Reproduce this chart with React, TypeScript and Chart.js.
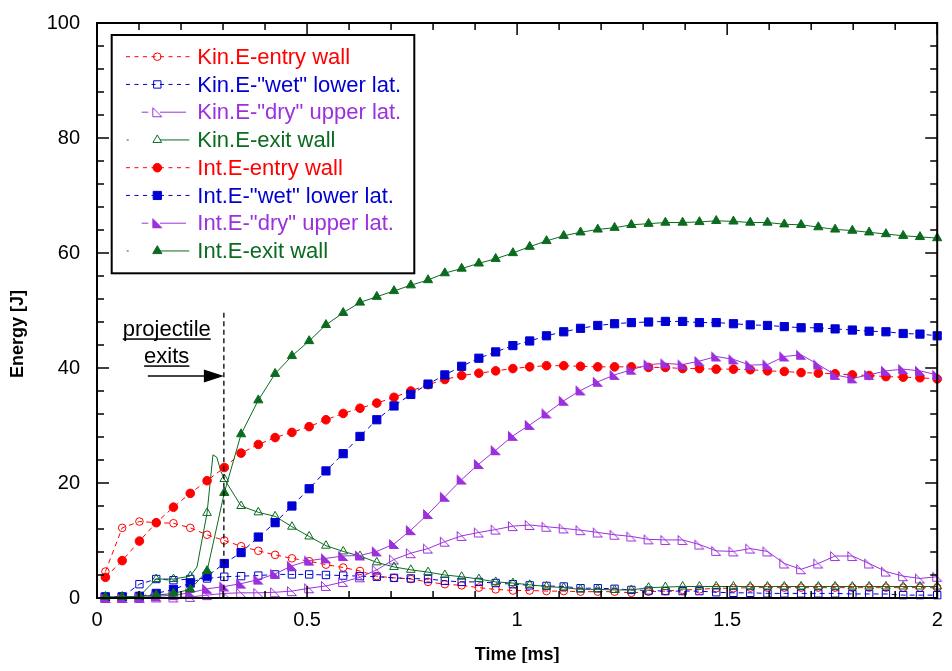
import React, { useEffect, useRef } from 'react';
import { Chart, registerables } from 'chart.js';

Chart.register(...registerables);

const FONT = "'Liberation Sans', Arial, Helvetica, sans-serif";

// Sampling instants of the marked points [ms]
const timeMs = [
  0.020, 0.060, 0.101, 0.141, 0.182, 0.222, 0.262, 0.303, 0.343, 0.384,
  0.424, 0.464, 0.505, 0.545, 0.586, 0.626, 0.666, 0.707, 0.747, 0.788,
  0.828, 0.868, 0.909, 0.949, 0.990, 1.030, 1.070, 1.111, 1.151, 1.192,
  1.232, 1.272, 1.313, 1.353, 1.394, 1.434, 1.474, 1.515, 1.555, 1.596,
  1.636, 1.676, 1.717, 1.757, 1.798, 1.838, 1.878, 1.919, 1.959, 2.000,
];

// Kinetic energy [J]
const kinEntryWall = [
  4.6, 12.2, 13.3, 13.1, 13.0, 12.2, 11.0, 10.0, 9.0, 8.2,
  7.5, 6.9, 6.4, 5.8, 5.3, 4.7, 3.8, 3.5, 3.3, 2.8,
  2.4, 2.2, 1.8, 1.5, 1.3, 1.3, 1.2, 1.2, 1.1, 1.1,
  1.1, 0.9, 1.1, 1.2, 1.4, 1.5, 1.7, 1.7, 1.8, 1.8,
  1.8, 1.8, 1.8, 1.8, 1.8, 1.8, 1.8, 1.8, 1.8, 1.8,
];
const kinWetLower = [
  0.2, 0.2, 2.4, 3.3, 3.1, 3.3, 3.4, 3.7, 3.8, 3.9,
  4.1, 4.1, 4.1, 4.0, 3.9, 3.8, 3.7, 3.5, 3.4, 3.3,
  3.0, 2.8, 2.8, 2.6, 2.4, 2.2, 2.1, 2.0, 1.7, 1.7,
  1.6, 1.4, 1.3, 1.2, 1.2, 1.2, 1.0, 0.9, 0.9, 0.8,
  0.8, 0.8, 0.8, 0.8, 0.7, 0.7, 0.7, 0.5, 0.5, 0.5,
];
const kinDryUpper = [
  0.0, 0.0, 0.0, 0.1, 0.1, 0.2, 0.5, 0.8, 0.9, 0.9,
  1.0, 1.2, 1.7, 2.1, 2.8, 3.6, 4.9, 6.7, 7.8, 8.6,
  9.8, 10.8, 11.4, 11.9, 12.5, 12.7, 12.4, 12.1, 11.8, 11.4,
  11.0, 10.7, 10.2, 10.1, 10.1, 9.3, 8.2, 8.1, 8.6, 8.1,
  6.0, 5.0, 6.0, 7.3, 7.3, 6.0, 4.6, 3.8, 3.4, 3.7,
];
const kinExitWall = [
  0.0, 0.0, 0.3, 3.3, 3.3, 3.8, 14.8, 20.7, 16.0, 14.9,
  14.2, 12.4, 10.7, 9.1, 8.1, 7.3, 6.2, 5.4, 4.9, 4.5,
  4.0, 3.7, 3.3, 2.8, 2.6, 2.3, 2.0, 1.8, 1.5, 1.5,
  1.4, 1.4, 1.8, 1.9, 2.0, 2.0, 2.0, 2.0, 2.0, 2.0,
  2.0, 2.0, 2.0, 2.0, 2.0, 2.0, 2.0, 2.0, 2.0, 2.0,
];

// Extra (unmarked) samples of the exit-wall kinetic energy around perforation
const kinExitBurstTime = [0.238, 0.276, 0.285, 0.295];
const kinExitBurstEnergy = [5.4, 24.9, 24.5, 22.0];

// Internal energy [J]
const intEntryWall = [
  3.6, 6.5, 9.9, 13.1, 15.8, 18.2, 20.4, 22.7, 25.2, 26.7,
  27.9, 28.8, 29.8, 31.0, 32.1, 33.0, 33.9, 34.9, 36.0, 37.1,
  38.0, 38.7, 39.1, 39.5, 39.9, 40.2, 40.4, 40.4, 40.3, 40.2,
  40.2, 40.2, 40.1, 40.1, 39.9, 39.9, 39.8, 39.8, 39.7, 39.5,
  39.4, 39.2, 39.1, 39.0, 38.8, 38.7, 38.5, 38.4, 38.3, 38.1,
];
const intWetLower = [
  0.2, 0.2, 0.3, 0.8, 1.5, 2.6, 3.8, 6.0, 7.9, 10.6,
  13.1, 16.0, 19.0, 22.1, 25.1, 28.1, 31.0, 33.4, 35.4, 37.2,
  38.8, 40.3, 41.7, 42.8, 43.9, 44.7, 45.6, 46.3, 46.9, 47.4,
  47.7, 47.9, 48.0, 48.1, 48.1, 47.9, 47.9, 47.7, 47.5, 47.4,
  47.2, 47.0, 47.0, 46.8, 46.6, 46.4, 46.3, 46.0, 45.9, 45.6,
];
const intDryUpper = [
  0.0, 0.0, 0.1, 0.3, 0.5, 0.9, 1.6, 2.0, 2.5, 3.2,
  4.2, 5.6, 6.5, 6.9, 7.3, 7.4, 8.1, 9.4, 11.8, 14.6,
  17.6, 20.6, 23.3, 25.7, 28.2, 30.1, 32.1, 34.3, 36.1, 37.6,
  38.8, 39.7, 40.6, 40.8, 40.6, 41.2, 42.0, 41.5, 40.5, 40.6,
  42.0, 42.3, 40.6, 38.8, 38.2, 38.8, 39.5, 39.8, 39.5, 38.8,
];
const intExitWall = [
  0.2, 0.2, 0.3, 0.5, 0.8, 1.5, 4.7, 18.3, 28.5, 34.4,
  39.0, 42.1, 44.7, 47.5, 49.6, 51.4, 52.4, 53.4, 54.4, 55.3,
  56.5, 57.3, 58.2, 59.0, 60.0, 61.1, 62.1, 63.0, 63.6, 64.1,
  64.4, 64.9, 65.1, 65.3, 65.3, 65.4, 65.6, 65.5, 65.3, 65.3,
  65.0, 64.9, 64.5, 64.1, 63.9, 63.6, 63.3, 63.0, 62.8, 62.6,
];

const seriesLabels = [
  'Kin.E-entry wall',
  'Kin.E-"wet" lower lat.',
  'Kin.E-"dry" upper lat.',
  'Kin.E-exit wall',
  'Int.E-entry wall',
  'Int.E-"wet" lower lat.',
  'Int.E-"dry" upper lat.',
  'Int.E-exit wall',
];

// Axis tick labels
const xTickValues = [0, 0.5, 1, 1.5, 2];
const xTickLabels = ['0', '0.5', '1', '1.5', '2'];
const yTickValues = [0, 20, 40, 60, 80, 100];
const yTickLabels = ['0', '20', '40', '60', '80', '100'];

const xTitle = 'Time [ms]';
const yTitle = 'Energy [J]';

// "projectile exits" note
const noteLines = ['projectile', 'exits'];
const noteCenterMs = 0.166;
const noteBaselineJ = [45.6, 40.9];
const exitTimeMs = 0.302;
const exitLineTopJ = 49.6;
const arrowStartMs = 0.121;
const arrowLevelJ = 38.6;

const RED = '#ff0000';
const BLUE = '#0000d2';
const VIOLET = '#9b30dc';
const GREEN = '#0b6b1f';

type MarkerKind = 'circle' | 'rect' | 'triangle' | 'wedge';
type LegendLine = 'dash' | 'tail';

interface SeriesSpec {
  label: string;
  values: number[];
  color: string;
  marker: MarkerKind;
  radius: number;
  filled: boolean;
  dashed: boolean;
  legendLine: LegendLine;
}

const specs: SeriesSpec[] = [
  { label: seriesLabels[0], values: kinEntryWall, color: RED, marker: 'circle', radius: 3.8, filled: false, dashed: true, legendLine: 'dash' },
  { label: seriesLabels[1], values: kinWetLower, color: BLUE, marker: 'rect', radius: 5.2, filled: false, dashed: true, legendLine: 'dash' },
  { label: seriesLabels[2], values: kinDryUpper, color: VIOLET, marker: 'wedge', radius: 5, filled: false, dashed: false, legendLine: 'tail' },
  { label: seriesLabels[3], values: kinExitWall, color: GREEN, marker: 'triangle', radius: 5, filled: false, dashed: false, legendLine: 'tail' },
  { label: seriesLabels[4], values: intEntryWall, color: RED, marker: 'circle', radius: 4.3, filled: true, dashed: true, legendLine: 'dash' },
  { label: seriesLabels[5], values: intWetLower, color: BLUE, marker: 'rect', radius: 5.8, filled: true, dashed: true, legendLine: 'dash' },
  { label: seriesLabels[6], values: intDryUpper, color: VIOLET, marker: 'wedge', radius: 5, filled: true, dashed: false, legendLine: 'tail' },
  { label: seriesLabels[7], values: intExitWall, color: GREEN, marker: 'triangle', radius: 5.3, filled: true, dashed: false, legendLine: 'tail' },
];

function makeWedge(color: string, filled: boolean): HTMLCanvasElement {
  const c = document.createElement('canvas');
  c.width = 12;
  c.height = 12;
  const g = c.getContext('2d')!;
  g.beginPath();
  g.moveTo(1.5, 1.5);
  g.lineTo(1.5, 10.5);
  g.lineTo(10.5, 10.5);
  g.closePath();
  if (filled) {
    g.fillStyle = color;
    g.fill();
  }
  g.lineWidth = 1;
  g.strokeStyle = color;
  g.stroke();
  return c;
}

function drawMarker(ctx: CanvasRenderingContext2D, s: SeriesSpec, img: HTMLCanvasElement | null, x: number, y: number) {
  if (s.marker === 'wedge' && img) {
    ctx.drawImage(img, x - img.width / 2, y - img.height / 2);
    return;
  }
  ctx.beginPath();
  if (s.marker === 'circle') {
    ctx.arc(x, y, s.radius, 0, Math.PI * 2);
  } else if (s.marker === 'rect') {
    const h = s.radius * Math.SQRT1_2;
    ctx.rect(x - h, y - h, 2 * h, 2 * h);
  } else {
    const r = s.radius;
    for (let k = 0; k < 3; k++) {
      const a = (k * 2 * Math.PI) / 3;
      const px = x + Math.sin(a) * r;
      const py = y - Math.cos(a) * r;
      if (k === 0) ctx.moveTo(px, py);
      else ctx.lineTo(px, py);
    }
  }
  ctx.closePath();
  ctx.lineWidth = 1;
  ctx.strokeStyle = s.color;
  if (s.filled) {
    ctx.fillStyle = s.color;
    ctx.fill();
  }
  ctx.stroke();
}

export default function App() {
  const canvasRef = useRef<HTMLCanvasElement>(null);

  useEffect(() => {
    const canvas = canvasRef.current;
    if (!canvas) return;

    const wedgeImages = specs.map((s) => (s.marker === 'wedge' ? makeWedge(s.color, s.filled) : null));

    const datasets = specs.map((s, i) => {
      let points: { x: number; y: number; marked: boolean }[] = timeMs.map((t, k) => ({ x: t, y: s.values[k], marked: true }));
      if (s.values === kinExitWall) {
        const extra = kinExitBurstTime.map((t, k) => ({ x: t, y: kinExitBurstEnergy[k], marked: false }));
        points = points.concat(extra).sort((a, b) => a.x - b.x);
      }
      const style: any = s.marker === 'wedge' ? wedgeImages[i] : s.marker;
      return {
        label: s.label,
        data: points,
        borderColor: s.color,
        backgroundColor: s.filled ? s.color : 'rgba(0,0,0,0)',
        borderWidth: 1,
        borderDash: s.dashed ? [5, 4] : [],
        tension: 0,
        pointStyle: style,
        pointRadius: (c: any) => (c.raw && c.raw.marked === false ? 0 : s.radius),
        pointHoverRadius: (c: any) => (c.raw && c.raw.marked === false ? 0 : s.radius),
        pointBorderColor: s.color,
        pointBackgroundColor: s.filled ? s.color : 'rgba(0,0,0,0)',
        pointBorderWidth: 1,
        order: specs.length - 1 - i,
        clip: false as any,
      };
    });

    const overlay = {
      id: 'overlay',
      afterDatasetsDraw(chart: any) {
        const { ctx, chartArea: a, scales } = chart;
        const xs = scales.x;
        const ys = scales.y;
        ctx.save();

        // frame
        ctx.setLineDash([]);
        ctx.strokeStyle = '#000';
        ctx.lineWidth = 2;
        ctx.strokeRect(a.left, a.top, a.right - a.left, a.bottom - a.top);

        // inward ticks on all four sides
        ctx.lineWidth = 1.5;
        ctx.beginPath();
        for (let i = 0; i <= 20; i++) {
          const px = xs.getPixelForValue(i / 10);
          const len = i % 5 === 0 ? 12 : 7;
          ctx.moveTo(px, a.bottom);
          ctx.lineTo(px, a.bottom - len);
          ctx.moveTo(px, a.top);
          ctx.lineTo(px, a.top + len);
        }
        for (let j = 0; j <= 25; j++) {
          const py = ys.getPixelForValue(j * 4);
          const len = (j * 4) % 20 === 0 ? 12 : 7;
          ctx.moveTo(a.left, py);
          ctx.lineTo(a.left + len, py);
          ctx.moveTo(a.right, py);
          ctx.lineTo(a.right - len, py);
        }
        ctx.stroke();

        // tick labels
        ctx.fillStyle = '#000';
        ctx.font = `20px ${FONT}`;
        ctx.textBaseline = 'middle';
        ctx.textAlign = 'center';
        xTickValues.forEach((v, k) => {
          ctx.fillText(xTickLabels[k], xs.getPixelForValue(v), a.bottom + 22);
        });
        ctx.textAlign = 'right';
        yTickValues.forEach((v, k) => {
          ctx.fillText(yTickLabels[k], a.left - 17, ys.getPixelForValue(v));
        });

        // projectile exit marker line
        const xl = xs.getPixelForValue(exitTimeMs);
        ctx.strokeStyle = '#000';
        ctx.lineWidth = 1.3;
        ctx.setLineDash([5, 3.5]);
        ctx.beginPath();
        ctx.moveTo(xl, ys.getPixelForValue(exitLineTopJ));
        ctx.lineTo(xl, a.bottom);
        ctx.stroke();
        ctx.setLineDash([]);

        // arrow
        const ay = ys.getPixelForValue(arrowLevelJ);
        ctx.strokeStyle = '#444';
        ctx.lineWidth = 2;
        ctx.beginPath();
        ctx.moveTo(xs.getPixelForValue(arrowStartMs), ay);
        ctx.lineTo(xl - 18, ay);
        ctx.stroke();
        ctx.fillStyle = '#000';
        ctx.beginPath();
        ctx.moveTo(xl, ay);
        ctx.lineTo(xl - 20, ay - 6.5);
        ctx.lineTo(xl - 20, ay + 6.5);
        ctx.closePath();
        ctx.fill();

        // note text, underlined
        ctx.font = `22px ${FONT}`;
        ctx.textAlign = 'center';
        ctx.textBaseline = 'alphabetic';
        const cx = xs.getPixelForValue(noteCenterMs);
        noteLines.forEach((s, k) => {
          const by = ys.getPixelForValue(noteBaselineJ[k]);
          ctx.fillText(s, cx, by);
          const w = ctx.measureText(s).width;
          ctx.fillRect(cx - w / 2, by + 2.5, w, 1.5);
        });

        // legend
        const L = { left: 103.7, top: 27, right: 406.3, bottom: 265.3 };
        ctx.fillStyle = '#fff';
        ctx.fillRect(L.left, L.top, L.right - L.left, L.bottom - L.top);
        ctx.strokeStyle = '#000';
        ctx.lineWidth = 2;
        ctx.strokeRect(L.left, L.top, L.right - L.left, L.bottom - L.top);
        ctx.font = `22px ${FONT}`;
        ctx.textAlign = 'left';
        ctx.textBaseline = 'middle';
        specs.forEach((s, k) => {
          const y = 48.7 + k * 27.75;
          ctx.strokeStyle = s.color;
          ctx.lineWidth = 1;
          ctx.beginPath();
          if (s.legendLine === 'dash') {
            ctx.setLineDash([4, 4.5]);
            ctx.moveTo(118, y);
            ctx.lineTo(182, y);
          } else if (s.color === VIOLET) {
            ctx.setLineDash([]);
            ctx.moveTo(133.7, y);
            ctx.lineTo(140.3, y);
            ctx.moveTo(152, y);
            ctx.lineTo(178, y);
          } else {
            ctx.setLineDash([]);
            ctx.moveTo(118.7, y);
            ctx.lineTo(120.7, y);
            ctx.moveTo(152, y);
            ctx.lineTo(181.3, y);
          }
          ctx.stroke();
          ctx.setLineDash([]);
          drawMarker(ctx, s, wedgeImages[k], 149.3, y);
          ctx.fillStyle = s.color;
          ctx.fillText(s.label, 189.3, y + 1);
        });

        // axis titles
        ctx.fillStyle = '#000';
        ctx.font = `bold 18px ${FONT}`;
        ctx.textAlign = 'center';
        ctx.textBaseline = 'middle';
        ctx.fillText(xTitle, (a.left + a.right) / 2, 647);
        ctx.translate(10, 326);
        ctx.rotate(-Math.PI / 2);
        ctx.fillText(yTitle, 0, 0);
        ctx.restore();
      },
    };

    const chart = new Chart(canvas, {
      type: 'line',
      data: { datasets: datasets as any },
      options: {
        animation: false,
        responsive: false,
        events: [],
        layout: { padding: { top: 15, right: 6, left: 0, bottom: 0 } },
        plugins: {
          legend: { display: false },
          tooltip: { enabled: false },
        },
        scales: {
          x: {
            type: 'linear',
            min: 0,
            max: 2,
            grid: { display: false, drawTicks: false },
            border: { display: false },
            ticks: { display: false },
            afterFit: (scale: any) => {
              scale.height = 65;
            },
          },
          y: {
            type: 'linear',
            min: 0,
            max: 100,
            grid: { display: false, drawTicks: false },
            border: { display: false },
            ticks: { display: false },
            afterFit: (scale: any) => {
              scale.width = 89;
            },
          },
        },
      },
      plugins: [overlay],
    });

    return () => chart.destroy();
  }, []);

  return (
    <div style={{ width: 936, height: 655 }}>
      <canvas ref={canvasRef} width={936} height={655} style={{ display: 'block' }} />
    </div>
  );
}
